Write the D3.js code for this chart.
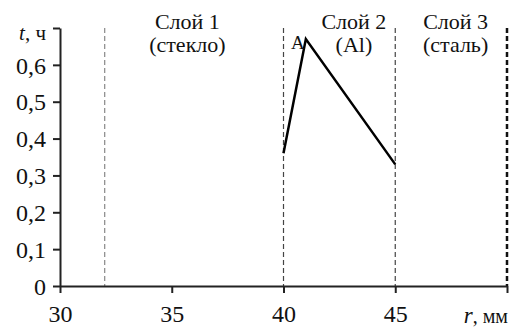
<!DOCTYPE html>
<html lang="ru">
<head>
<meta charset="UTF-8">
<title>t(r)</title>
<script src="https://cdn.jsdelivr.net/npm/d3@7/dist/d3.min.js"></script>
<style>
  body { margin: 0; background: #fff; }
  svg text { font-family: "Liberation Serif", "Times New Roman", Times, serif !important; fill: #111; }
</style>
</head>
<body>
<script>

// data
var rValues = [40, 41, 45];
var tValues = [0.36, 0.67, 0.33];
var boundaries = [32, 40, 45, 50];
var xTicks = [30, 35, 40, 45];
var yTicks = [0, 0.1, 0.2, 0.3, 0.4, 0.5, 0.6, 0.7];
var layerNames = ["Слой 1", "Слой 2", "Слой 3"];
var layerMaterials = ["(стекло)", "(Al)", "(сталь)"];
var layerCenters = [35.7, 43.15, 47.7];

var width = 510, height = 327;

var x = d3.scaleLinear().domain([30, 50]).range([60, 507]);
var y = d3.scaleLinear().domain([0, 0.7]).range([286, 28]);

var svg = d3.select('body').append('svg')
  .attr('width', width)
  .attr('height', height);

// dashed layer boundaries
svg.selectAll('line.bound')
  .data(boundaries)
  .enter().append('line')
  .attr('class', 'bound')
  .attr('x1', function (d) { return x(d); })
  .attr('x2', function (d) { return x(d); })
  .attr('y1', y(0.7))
  .attr('y2', y(0))
  .attr('stroke', function (d) { return d == 32 ? '#888' : (d == 50 ? '#111' : '#444'); })
  .attr('stroke-width', function (d) { return d == 50 ? 2.5 : 1.2; })
  .attr('stroke-dasharray', '5,3');

// axes
var xAxis = svg.append('g')
  .attr('transform', 'translate(0,' + y(0) + ')')
  .call(d3.axisBottom(x).tickValues(xTicks.concat([50])).tickSize(7).tickSizeOuter(0)
    .tickFormat(function (d) { return d == 50 ? '' : d; }));
var yAxis = svg.append('g')
  .attr('transform', 'translate(' + x(30) + ',0)')
  .call(d3.axisLeft(y).tickValues(yTicks).tickSize(7).tickSizeOuter(0)
    .tickFormat(function (d) { return d == 0.7 ? '' : String(d).replace('.', ','); }));

[xAxis, yAxis].forEach(function (a) {
  a.attr('font-family', null);
  a.select('.domain').attr('stroke', '#222').attr('stroke-width', 2);
  a.selectAll('.tick line').attr('stroke', '#222').attr('stroke-width', 2);
  a.selectAll('.tick text').attr('font-size', 24).attr('fill', '#111');
});
xAxis.selectAll('.tick text').attr('y', 19).attr('dy', '0.71em');
yAxis.selectAll('.tick text').attr('x', -14).attr('dy', '0.34em');

// axis titles
var tl = svg.append('text').attr('x', 46).attr('y', 40).attr('text-anchor', 'end').attr('font-size', 21);
tl.append('tspan').attr('font-style', 'italic').text('t');
tl.append('tspan').text(', ч');

var rl = svg.append('text').attr('x', 508).attr('y', 323).attr('text-anchor', 'end').attr('font-size', 20);
rl.append('tspan').attr('font-style', 'italic').attr('font-size', 23).text('r');
rl.append('tspan').text(', мм');

// layer labels
svg.selectAll('text.lname')
  .data(layerNames)
  .enter().append('text')
  .attr('class', 'lname')
  .attr('x', function (d, i) { return x(layerCenters[i]); })
  .attr('y', 29)
  .attr('text-anchor', 'middle')
  .attr('font-size', 22)
  .text(function (d) { return d; });
svg.selectAll('text.lmat')
  .data(layerMaterials)
  .enter().append('text')
  .attr('class', 'lmat')
  .attr('x', function (d, i) { return x(layerCenters[i]); })
  .attr('y', 52)
  .attr('text-anchor', 'middle')
  .attr('font-size', 22)
  .text(function (d) { return d; });

// curve
var line = d3.line()
  .x(function (d, i) { return x(rValues[i]); })
  .y(function (d) { return y(d); });
svg.append('path')
  .datum(tValues)
  .attr('d', line)
  .attr('fill', 'none')
  .attr('stroke', '#000')
  .attr('stroke-width', 2.5);

svg.append('text')
  .attr('x', x(rValues[1]) - 1)
  .attr('y', y(tValues[1]) + 10)
  .attr('text-anchor', 'end')
  .attr('font-size', 19)
  .text('A');

</script>
</body>
</html>
